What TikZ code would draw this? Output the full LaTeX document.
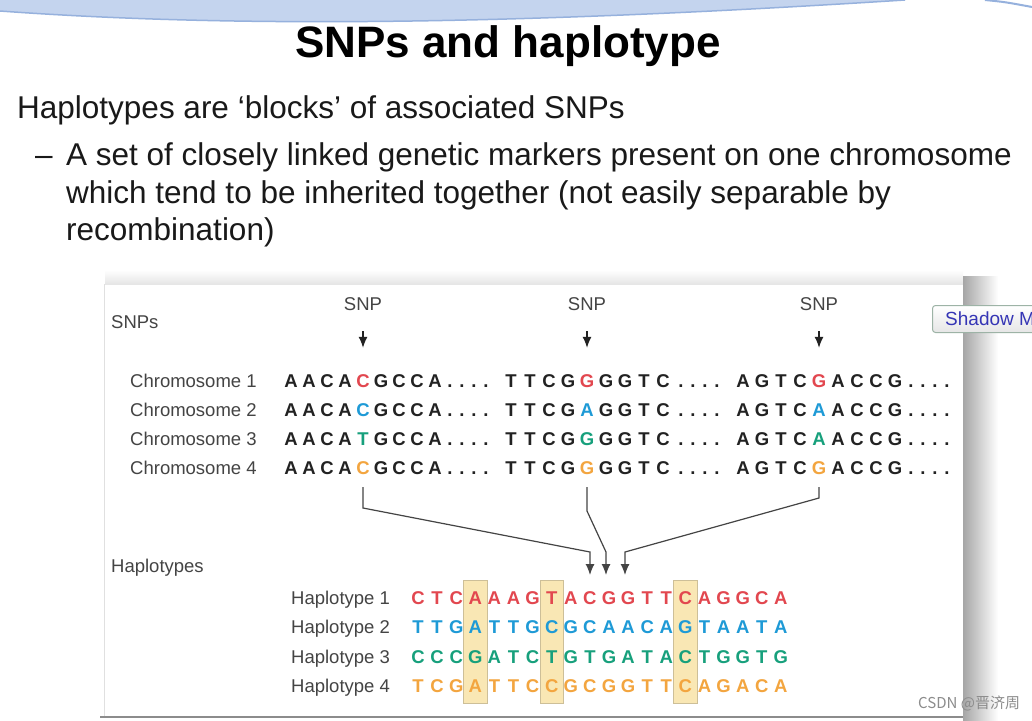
\documentclass[tikz,border=0pt]{standalone}
\usepackage{fontspec}
\setmainfont{Liberation Sans}
\newfontfamily\cjk{Noto Sans CJK SC}
\usepackage{tikz}
\usetikzlibrary{positioning,arrows.meta,fit,backgrounds}
\definecolor{snpred}{HTML}{E2474F}
\definecolor{snpblue}{HTML}{1E9AD6}
\definecolor{snpgreen}{HTML}{17A07C}
\definecolor{snporange}{HTML}{F3A53F}
\definecolor{seqblack}{HTML}{222222}
\definecolor{labgray}{HTML}{444444}
\definecolor{hlfill}{HTML}{F9E7B4}
\definecolor{hldraw}{HTML}{CDBF98}
\definecolor{bandblue}{HTML}{C4D4EE}
\definecolor{bandedge}{HTML}{96B1DD}
\definecolor{btnblue}{HTML}{3535B5}
\definecolor{btnedge}{HTML}{9DB3A6}

\begin{document}
\begin{tikzpicture}[x=1pt,y=-1pt,>={Latex[length=11pt,width=9pt]},
  nt/.style={font=\bfseries\fontsize{18.5}{18}\selectfont,inner sep=0pt,text height=13pt,text depth=0pt,minimum width=14pt,anchor=base},
  lab/.style={font=\fontsize{18.5}{20}\selectfont,text=labgray,inner sep=0pt,anchor=base west},
  body/.style={font=\fontsize{31.5}{37}\selectfont,text=black!90,inner sep=0pt,anchor=base west},
  hlbox/.style={draw=hldraw,fill=hlfill,line width=1pt,inner xsep=4.5pt,inner ysep=10pt},
  snparrow/.style={->,line width=1.2pt,draw=seqblack},
  link/.style={->,line width=1.2pt,draw=labgray}]
\clip (0,0) rectangle (1032,720);
\begin{pgfonlayer}{background}
  \fill[white] (0,0) rectangle (1032,720);
\end{pgfonlayer}
\fill[bandblue] (0,0) -- (0,11) .. controls (260,30) and (560,22) .. (905,0) -- cycle;
\draw[bandedge,line width=1.5pt] (0,11) .. controls (260,30) and (560,22) .. (905,0);
\draw[bandedge,line width=2pt] (985,0) .. controls (1005,2) .. (1032,7);

\node[font=\bfseries\fontsize{44}{44}\selectfont,inner sep=0pt,anchor=base] (title) at (508,57) {SNPs and haplotype};
\node[body] (line1) at (17,118) {Haplotypes are ‘blocks’ of associated SNPs};
\node[body] (dash) at (35,165) {–};
\node[body] (line2) at (66,165) {A set of closely linked genetic markers present on one chromosome};
\node[body] (line3) at (66,203) {which tend to be inherited together (not easily separable by};
\node[body] (line4) at (66,240) {recombination)};

\shade[top color=white,bottom color=black!10] (105,270) rectangle (963,284);
\shade[left color=black!35,right color=white] (963,276) rectangle (998,720);
\draw[black!12] (104,284) -- (104,716);
\draw[black!45,line width=1.5pt] (100,717) -- (963,717);
\node[draw=btnedge,line width=1pt,rounded corners=3pt,top color=white,bottom color=black!10,minimum width=115pt,minimum height=27pt,anchor=west,inner sep=0pt] (btn) at (932,319) {};
\node[anchor=base west,inner sep=0pt,text=btnblue,font=\fontsize{19}{19}\selectfont] (btntext) at (945,325) {Shadow M};
\node[anchor=base west,inner sep=0pt,text=black!45,font=\cjk\fontsize{15}{15}\selectfont] (mark) at (918,708) {CSDN @晋济周};

\node[lab] (snps) at (111,328) {SNPs};
\node[lab] (haps) at (111,572) {Haplotypes};
\foreach \n/\x in {A/363,B/587,C/819}
  \node[lab,anchor=base] (snp\n) at (\x,310) {SNP};

\foreach \r/\col/\sa/\sb/\sc in {
  1/snpred/{A,A,C,A,C,G,C,C,A}/{T,T,C,G,G,G,G,T,C}/{A,G,T,C,G,A,C,C,G},
  2/snpblue/{A,A,C,A,C,G,C,C,A}/{T,T,C,G,A,G,G,T,C}/{A,G,T,C,A,A,C,C,G},
  3/snpgreen/{A,A,C,A,T,G,C,C,A}/{T,T,C,G,G,G,G,T,C}/{A,G,T,C,A,A,C,C,G},
  4/snporange/{A,A,C,A,C,G,C,C,A}/{T,T,C,G,G,G,G,T,C}/{A,G,T,C,G,A,C,C,G}}{
  \node[lab] (chr\r) at (130,{387+29*(\r-1)}) {Chromosome \r};
  \foreach \l [count=\i from 0] in \sa {
    \ifnum\i=4 \def\lc{\col}\else\def\lc{seqblack}\fi
    \node[nt,text=\lc] (c\r a\i) at ({291+18*\i},{387+29*(\r-1)}) {\l};}
  \foreach \l [count=\i from 0] in \sb {
    \ifnum\i=4 \def\lc{\col}\else\def\lc{seqblack}\fi
    \node[nt,text=\lc] (c\r b\i) at ({511+19*\i},{387+29*(\r-1)}) {\l};}
  \foreach \l [count=\i from 0] in \sc {
    \ifnum\i=4 \def\lc{\col}\else\def\lc{seqblack}\fi
    \node[nt,text=\lc] (c\r c\i) at ({743+19*\i},{387+29*(\r-1)}) {\l};}
  \foreach \b/\xd in {a/450,b/681,c/911}
    \foreach \d in {0,...,3}
      \node[nt,minimum width=0pt,text=seqblack] (d\r\b\d) at ({\xd+12*\d},{387+29*(\r-1)}) {.};
}

\foreach \n/\b in {A/a,B/b,C/c}
  \draw[snparrow,shorten <=21pt,shorten >=26pt] (snp\n.south) -- (c1\b4.north);

\coordinate (kA1) at (363,508); \coordinate (kA2) at (590,552); \coordinate (tipA) at (590,575);
\coordinate (kB1) at (587,511); \coordinate (kB2) at (606,552); \coordinate (tipB) at (606,575);
\coordinate (kC1) at (819,498); \coordinate (kC2) at (625,552); \coordinate (tipC) at (625,575);
\draw[link,shorten <=13pt] (c4a4.south) -- (kA1) -- (kA2) -- (tipA);
\draw[link,shorten <=13pt] (c4b4.south) -- (kB1) -- (kB2) -- (tipB);
\draw[link,shorten <=13pt] (c4c4.south) -- (kC1) -- (kC2) -- (tipC);

\foreach \r/\col/\s in {
  1/snpred/{C,T,C,A,A,A,G,T,A,C,G,G,T,T,C,A,G,G,C,A},
  2/snpblue/{T,T,G,A,T,T,G,C,G,C,A,A,C,A,G,T,A,A,T,A},
  3/snpgreen/{C,C,C,G,A,T,C,T,G,T,G,A,T,A,C,T,G,G,T,G},
  4/snporange/{T,C,G,A,T,T,C,C,G,C,G,G,T,T,C,A,G,A,C,A}}{
  \node[lab] (hap\r) at (291,{604+29.6*(\r-1)}) {Haplotype \r};
  \foreach \l [count=\i from 0] in \s
    \node[nt,text=\col] (h\r-\i) at ({418+19.1*\i},{604+29.6*(\r-1)}) {\l};
}
\begin{scope}[on background layer]
  \foreach \k in {3,7,14}
    \node[hlbox,fit=(h1-\k)(h4-\k)] (hl\k) {};
\end{scope}
\end{tikzpicture}
\end{document}
